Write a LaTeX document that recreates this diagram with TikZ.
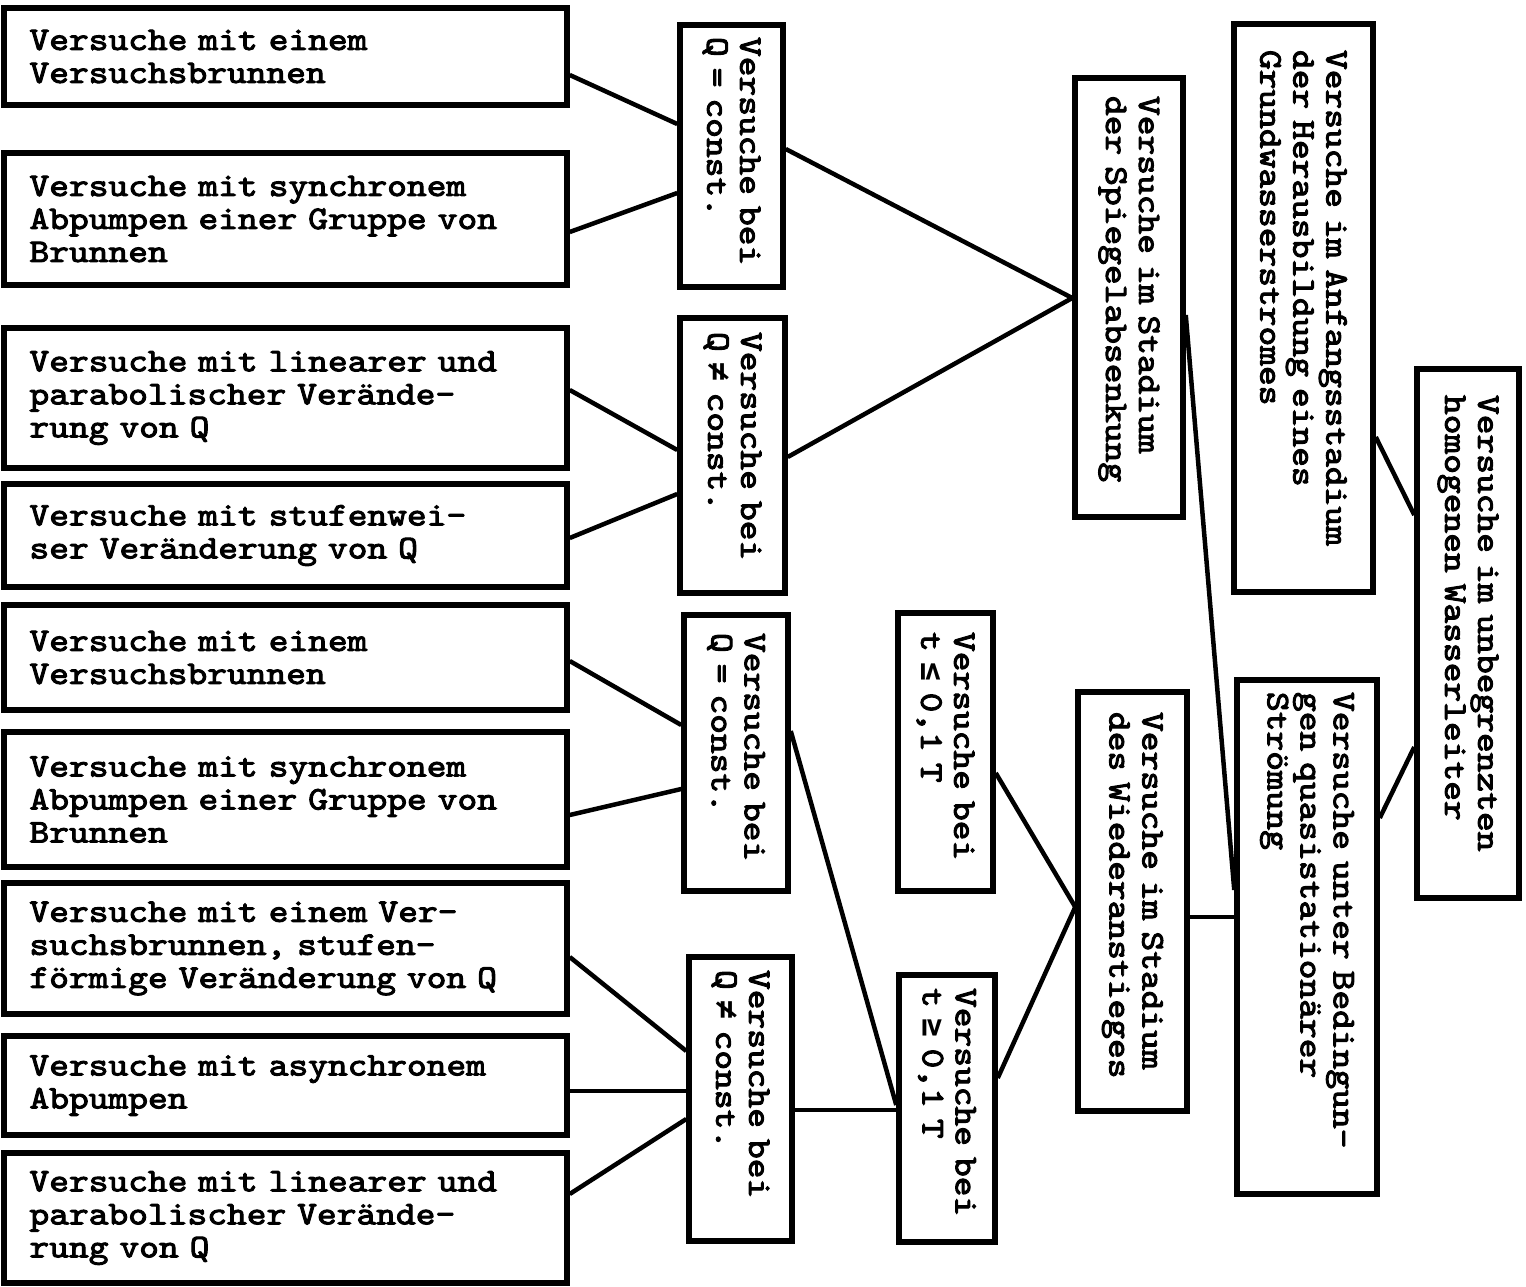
\documentclass[tikz,border=0pt]{standalone}
\usepackage{fontspec}
\newfontfamily\twfont{lmmono10-regular.otf}[FakeBold=3, FakeStretch=1.14]
\newfontfamily\symfont{DejaVu Sans Mono}[FakeStretch=0.95]
\newcommand{\NEQ}{{\symfont\bfseries ≠}}
\newcommand{\LEQ}{{\symfont\bfseries ≤}}
\newcommand{\GEQ}{{\symfont\bfseries ≥}}
\begin{document}
\begin{tikzpicture}[x=1pt,y=-1pt,
  every node/.style={font=\fontsize{33}{33}\selectfont\twfont},
  lbox/.style={draw, line width=5.5pt, minimum width=563pt, text width=512pt, align=left, inner sep=0pt},
  vbox/.style={draw, line width=5.5pt, rotate=-90, align=left, inner sep=0pt},
  conn/.style={line width=4.5pt}
]
\useasboundingbox (0,0) rectangle (1526,1287);
\fill[white] (0,0) rectangle (1526,1287);

% left column
\node[lbox, minimum height=97pt]  (b1) at (285.5,56.5)  {Versuche mit einem\\Versuchsbrunnen};
\node[lbox, minimum height=132pt] (b2) at (285.5,219)   {Versuche mit synchronem\\Abpumpen einer Gruppe von\\Brunnen};
\node[lbox, minimum height=140pt] (b3) at (285.5,398)   {Versuche mit linearer und\\parabolischer Verände-\\rung von Q};
\node[lbox, minimum height=103pt] (b4) at (285.5,535.5) {Versuche mit stufenwei-\\ser Veränderung von Q};
\node[lbox, minimum height=105pt] (b5) at (285.5,657.5) {Versuche mit einem\\Versuchsbrunnen};
\node[lbox, minimum height=135pt] (b6) at (285.5,799.5) {Versuche mit synchronem\\Abpumpen einer Gruppe von\\Brunnen};
\node[lbox, minimum height=131pt] (b7) at (285.5,948.5) {Versuche mit einem Ver-\\suchsbrunnen, stufen-\\förmige Veränderung von Q};
\node[lbox, minimum height=99pt]  (b8) at (285.5,1085.5){Versuche mit asynchronem\\Abpumpen};
\node[lbox, minimum height=130pt] (b9) at (285.5,1218)  {Versuche mit linearer und\\parabolischer Verände-\\rung von Q};

% vertical boxes
\node[vbox, minimum width=262pt, minimum height=103pt, text width=238pt] (qc1) at (731.5,156)   {Versuche bei\\Q = const.};
\node[vbox, minimum width=275pt, minimum height=105pt, text width=247pt] (qn1) at (732.5,455.5) {Versuche bei\\Q \NEQ{} const.};
\node[vbox, minimum width=276pt, minimum height=104pt, text width=240pt] (qc2) at (736,753)     {Versuche bei\\Q = const.};
\node[vbox, minimum width=284pt, minimum height=103pt, text width=258pt] (qn2) at (740.5,1099)  {Versuche bei\\Q \NEQ{} const.};
\node[vbox, minimum width=278pt, minimum height=95pt,  text width=240pt] (tle) at (945.5,752)   {Versuche bei\\t \LEQ{} 0,1 T};
\node[vbox, minimum width=267pt, minimum height=96pt,  text width=241pt] (tge) at (947,1108.5)  {Versuche bei\\t \GEQ{} 0,1 T};
\node[vbox, minimum width=439pt, minimum height=108pt, text width=403pt] (spiegel) at (1129,297.5) {Versuche im Stadium\\der Spiegelabsenkung};
\node[vbox, minimum width=419pt, minimum height=109pt, text width=379pt] (wieder) at (1132.5,901.5) {Versuche im Stadium\\des Wiederanstieges};
\node[vbox, minimum width=568pt, minimum height=139pt, text width=516pt] (anfang) at (1303.5,308) {Versuche im Anfangsstadium\\der Herausbildung eines\\Grundwasserstromes};
\node[vbox, minimum width=514pt, minimum height=140pt, text width=490pt] (beding) at (1307,937) {Versuche unter Bedingun-\\gen quasistationärer\\Strömung};
\node[vbox, minimum width=529pt, minimum height=102pt, text width=477pt] (unbegr) at (1468,633.5) {Versuche im unbegrenzten\\homogenen Wasserleiter};

% connectors upper part
\draw[conn] (b1.east |- 0,75)   -- (qc1.south |- 0,124);
\draw[conn] (b2.east |- 0,232)  -- (qc1.south |- 0,193);
\draw[conn] (b3.east |- 0,390)  -- (qn1.south |- 0,450);
\draw[conn] (b4.east |- 0,538)  -- (qn1.south |- 0,494);
\draw[conn] (qc1.north |- 0,149) -- (spiegel.south |- 0,298);
\draw[conn] (qn1.north |- 0,457) -- (spiegel.south |- 0,298);
\draw[conn] (spiegel.north |- 0,315) -- (beding.south |- 0,890);
\draw[conn] (anfang.north |- 0,437) -- (unbegr.south |- 0,515);
\draw[conn] (beding.north |- 0,818) -- (unbegr.south |- 0,747);

% connectors lower part
\draw[conn] (b5.east |- 0,661)  -- (qc2.south |- 0,725);
\draw[conn] (b6.east |- 0,815)  -- (qc2.south |- 0,789);
\draw[conn] (b7.east |- 0,957)  -- (qn2.south |- 0,1051);
\draw[conn] (b8.east |- 0,1091) -- (qn2.south |- 0,1091);
\draw[conn] (b9.east |- 0,1194) -- (qn2.south |- 0,1119);
\draw[conn] (qn2.north |- 0,1110) -- (tge.south |- 0,1110);
\draw[conn] (qc2.north |- 0,731) -- (tge.south |- 0,1105);
\draw[conn] (tle.north |- 0,773) -- (wieder.south |- 0,907);
\draw[conn] (tge.north |- 0,1078) -- (wieder.south |- 0,907);
\draw[conn] (wieder.north |- 0,917) -- (beding.south |- 0,917);
\end{tikzpicture}
\end{document}
